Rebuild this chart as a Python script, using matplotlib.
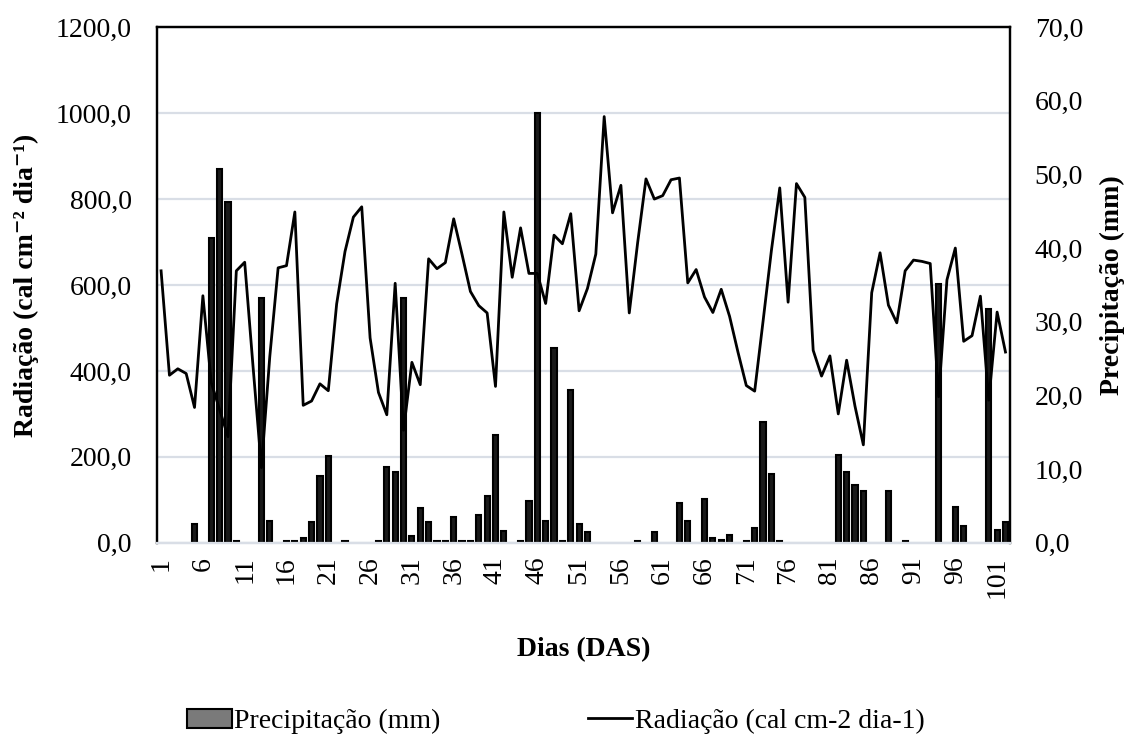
import matplotlib
matplotlib.use('Agg')
import matplotlib.pyplot as plt
from matplotlib.ticker import FuncFormatter
from matplotlib.patches import Patch
from matplotlib.lines import Line2D
import numpy as np

plt.rcParams['font.family'] = ['Liberation Serif', 'DejaVu Serif']

# dias apos semeadura
days = np.arange(1, 103)

# radiacao (cal cm-2 dia-1)
radiation = [633, 390, 405, 394, 315, 575, 373, 310, 247, 633,
             653, 410, 175, 433, 640, 645, 770, 320, 330, 370,
             354, 556, 678, 758, 782, 477, 350, 298, 604, 262,
             420, 368, 661, 638, 652, 754, 671, 585, 552, 535,
             364, 770, 618, 733, 627, 627, 557, 716, 696, 766,
             540, 592, 672, 992, 768, 832, 535, 698, 847, 800,
             808, 845, 849, 605, 636, 572, 536, 590, 527, 444,
             366, 353, 515, 680, 826, 560, 836, 804, 448, 388,
             435, 300, 425, 318, 228, 582, 675, 553, 512, 633,
             658, 655, 650, 340, 612, 686, 469, 482, 574, 332,
             537, 444]

# precipitacao (mm)
precipitation = [0, 0, 0, 0, 2.6, 0, 41.4, 50.7, 46.3, 0.3,
                 0, 0, 33.2, 3.0, 0, 0.2, 0.2, 0.6, 2.8, 9.1,
                 11.8, 0, 0.2, 0, 0, 0, 0.2, 10.3, 9.6, 33.2,
                 0.9, 4.7, 2.8, 0.2, 0.2, 3.5, 0.2, 0.2, 3.8, 6.4,
                 14.7, 1.6, 0, 0.2, 5.7, 58.4, 3.0, 26.5, 0.2, 20.8,
                 2.5, 1.5, 0, 0, 0, 0, 0, 0.2, 0, 1.4,
                 0, 0, 5.4, 3.0, 0, 5.9, 0.6, 0.4, 1.0, 0,
                 0.2, 2.0, 16.4, 9.4, 0.2, 0, 0, 0, 0, 0,
                 0, 11.9, 9.6, 7.9, 7.1, 0, 0, 7.1, 0, 0.2,
                 0, 0, 0, 35.1, 0, 4.9, 2.3, 0, 0, 31.7,
                 1.8, 2.8]

xtick_days = list(range(1, 102, 5))

fig = plt.figure(figsize=(11.37, 7.56), dpi=100)
ax1 = fig.add_axes([0.138, 0.282, 0.750, 0.682])
ax2 = ax1.twinx()

ax1.set_xlim(0.5, 102.5)
ax1.set_ylim(0, 1200)
ax2.set_ylim(0, 70)

# barras de precipitacao no eixo secundario
prec = np.array(precipitation)
mask = prec > 0
ax2.bar(days[mask], prec[mask], width=0.62, color='#1a1a1a',
        edgecolor='black', linewidth=1.5)

# linha da radiacao na escala do eixo esquerdo, desenhada por cima das barras
ax2.plot(days, radiation, color='black', linewidth=2.0,
         transform=ax1.transData)
ax2.set_ylim(0, 70)

ax1.set_yticks(np.arange(0, 1201, 200))
ax2.set_yticks(np.arange(0, 71, 10))
fmt = FuncFormatter(lambda v, p: f'{v:.1f}'.replace('.', ','))
ax1.yaxis.set_major_formatter(fmt)
ax2.yaxis.set_major_formatter(fmt)

ax1.set_xticks(xtick_days)
ax1.set_xticklabels([str(d) for d in xtick_days], rotation=90)

ax1.grid(axis='y', color='#d9dee6', linewidth=1.6)
ax1.set_axisbelow(True)

for ax in (ax1, ax2):
    ax.tick_params(length=0, labelsize=20)
    for side in ('left', 'right', 'top'):
        ax.spines[side].set_color('black')
        ax.spines[side].set_linewidth(1.6)
    ax.spines['bottom'].set_color('#d9dee6')
    ax.spines['bottom'].set_linewidth(1.6)
ax1.tick_params(axis='x', pad=10)
ax1.tick_params(axis='y', pad=18)
ax2.tick_params(axis='y', pad=18)

ax1.set_ylabel('Radiação (cal cm⁻² dia⁻¹)', fontsize=20, fontweight='bold', labelpad=12)
ax2.set_ylabel('Precipitação (mm)', fontsize=20, fontweight='bold', labelpad=12)
ax1.set_xlabel('Dias (DAS)', fontsize=20, fontweight='bold', labelpad=28)

handles = [Patch(facecolor='#7a7a7a', edgecolor='black', linewidth=1.5),
           Line2D([], [], color='black', linewidth=2.0)]
labels = ['Precipitação (mm)', 'Radiação (cal cm-2 dia-1)']
fig.legend(handles, labels, loc='center', bbox_to_anchor=(0.489, 0.046),
           ncol=2, frameon=False, fontsize=20, handlelength=1.6,
           columnspacing=5.3, handletextpad=0.1)

plt.savefig('out.png', dpi=100)
plt.close()
